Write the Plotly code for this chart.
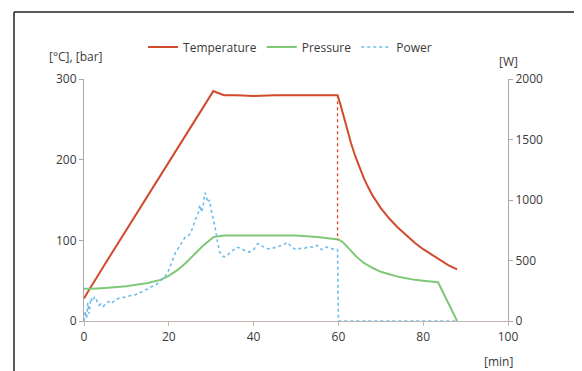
import plotly.graph_objects as go

# ---- data ----
temp_min = [0, 1, 5, 10, 15, 20, 25, 29, 30.5, 31.5, 33, 36, 40, 45, 50, 55, 59.8,
            60.5, 61, 62, 63, 64, 65, 66, 67, 68, 70, 72, 74, 76, 78, 80, 82, 84, 86, 88]
temp_c = [28, 37, 71, 113, 155, 197, 239, 273, 285, 283, 280, 280, 279, 280, 280, 280, 280,
          268, 258, 238, 220, 204, 190, 177, 166, 156, 140, 127, 116, 106, 97, 89, 82, 75, 69, 64]

press_min = [0, 2, 5, 10, 15, 18, 20, 22, 24, 26, 28, 30.5, 33, 40, 50, 55, 60,
             61, 62, 63, 64, 65, 66, 68, 70, 72, 74, 76, 78, 80, 82, 83.5, 88]
press_bar = [40, 40, 41, 43, 47, 51, 56, 63, 72, 82, 93, 104, 106, 106, 106, 104, 101,
             98, 93, 87, 81, 76, 72, 66, 61, 58, 55, 53, 51, 50, 49, 48, 0]

power_min = [0, 0.3, 0.6, 0.9, 1.2, 1.6, 2.0, 2.5, 3.0, 3.5, 4.0, 4.6, 5.2, 5.8, 6.5, 7.2,
             8.0, 9.0, 10.0, 11.0, 12.0, 13.0, 14.0, 15.0, 16.0, 17.0, 18.0, 19.0, 20.0,
             20.8, 21.5, 22.2, 23.0, 23.8, 24.5, 25.2, 25.8, 26.4, 26.9, 27.3, 27.7, 28.1,
             28.5, 28.8, 29.2, 29.6, 30.0, 30.5, 31.0, 31.5, 32.0, 32.5, 33.0, 33.5, 34.0,
             35, 36, 37, 38, 39, 40, 41, 42, 43, 44, 45, 46, 47, 48, 49, 50, 51, 52, 53,
             54, 55, 56, 57, 58, 59, 59.8, 60.0, 70, 80, 88]
power_w = [0, 80, 20, 150, 60, 190, 160, 200, 170, 130, 140, 120, 150, 160, 145, 170,
           185, 190, 200, 210, 215, 230, 245, 265, 285, 300, 330, 360, 420,
           500, 560, 600, 640, 690, 700, 730, 790, 850, 880, 960, 900, 950,
           1060, 1040, 980, 1000, 920, 850, 760, 650, 570, 540, 530, 535, 550,
           580, 610, 600, 580, 570, 590, 640, 620, 600, 595, 605, 620, 630, 650, 610,
           590, 600, 600, 615, 610, 625, 590, 610, 605, 590, 590, 0, 0, 0, 0]

# heater-off marker (dotted red drop at 60 min)
off_min = [59.8, 59.8]
off_c = [280, 100]

x_ticks = [0, 20, 40, 60, 80, 100]
left_ticks = [0, 100, 200, 300]
right_ticks = [0, 500, 1000, 1500, 2000]

RED = "#d14a2c"
GREEN = "#7fc878"
BLUE = "#6cbde9"
TXT = "#3a3a3a"
FONT = "Open Sans"

fig = go.Figure()
fig.add_trace(go.Scatter(x=temp_min, y=temp_c, name="Temperature", mode="lines",
                         line=dict(color=RED, width=2)))
fig.add_trace(go.Scatter(x=press_min, y=press_bar, name="Pressure", mode="lines",
                         line=dict(color=GREEN, width=2)))
fig.add_trace(go.Scatter(x=off_min, y=off_c, showlegend=False, mode="lines",
                         line=dict(color=RED, width=1.3, dash="dot")))
fig.add_trace(go.Scatter(x=power_min, y=power_w, name="Power", mode="lines", yaxis="y2",
                         line=dict(color=BLUE, width=1.6, dash="dot")))

# page body has an 8px margin: plot area targeted at x 84..508, y 79..321 of the window
fig.update_layout(
    width=574, height=363,
    margin=dict(l=76, r=74, t=71, b=50),
    paper_bgcolor="white", plot_bgcolor="white",
    font=dict(family=FONT, size=12, color=TXT),
    showlegend=True,
    legend=dict(orientation="h", x=0.486, y=1.132, xanchor="center", yanchor="middle",
                font=dict(family=FONT, size=12, color=TXT), bgcolor="rgba(0,0,0,0)",
                itemwidth=30, tracegroupgap=0),
    xaxis=dict(range=[0, 100], tickvals=x_ticks, showgrid=False, zeroline=False,
               showline=True, linecolor="#c4b4ae", linewidth=1.2,
               ticks="outside", ticklen=4, tickcolor="#c4b4ae",
               tickfont=dict(family=FONT, size=12, color=TXT)),
    yaxis=dict(range=[0, 300], tickvals=left_ticks, showgrid=False, zeroline=False,
               showline=True, linecolor="#a8a8a8", linewidth=1.2,
               ticks="outside", ticklen=4, tickcolor="#a8a8a8",
               tickfont=dict(family=FONT, size=12, color=TXT)),
    yaxis2=dict(range=[0, 2000], tickvals=right_ticks, overlaying="y", side="right",
                showgrid=False, zeroline=False, showline=True, linecolor="#a8a8a8",
                linewidth=1.2, ticks="outside", ticklen=4, tickcolor="#a8a8a8",
                tickfont=dict(family=FONT, size=12, color=TXT)),
)

# axis unit labels
fig.add_annotation(text="[°C], [bar]", xref="paper", yref="paper",
                   x=(76 - 84) / 424, y=(321 - 56) / 242, showarrow=False,
                   xanchor="center", yanchor="middle", font=dict(size=12, color=TXT))
fig.add_annotation(text="[W]", xref="paper", yref="paper",
                   x=(508 - 84) / 424, y=(321 - 62) / 242, showarrow=False,
                   xanchor="center", yanchor="middle", font=dict(size=12, color=TXT))
fig.add_annotation(text="[min]", xref="paper", yref="paper",
                   x=(498 - 84) / 424, y=(321 - 361) / 242, showarrow=False,
                   xanchor="center", yanchor="middle", font=dict(size=12, color=TXT))

# black frame (left and top edges)
fx = (14 - 84) / 424
fy = (321 - 12) / 242
fig.add_shape(type="line", xref="paper", yref="paper", x0=fx, x1=fx, y0=fy, y1=-0.3,
              line=dict(color="#222222", width=1.5))
fig.add_shape(type="line", xref="paper", yref="paper", x0=fx, x1=1.3, y0=fy, y1=fy,
              line=dict(color="#222222", width=1.5))

fig.write_html("out.html")
